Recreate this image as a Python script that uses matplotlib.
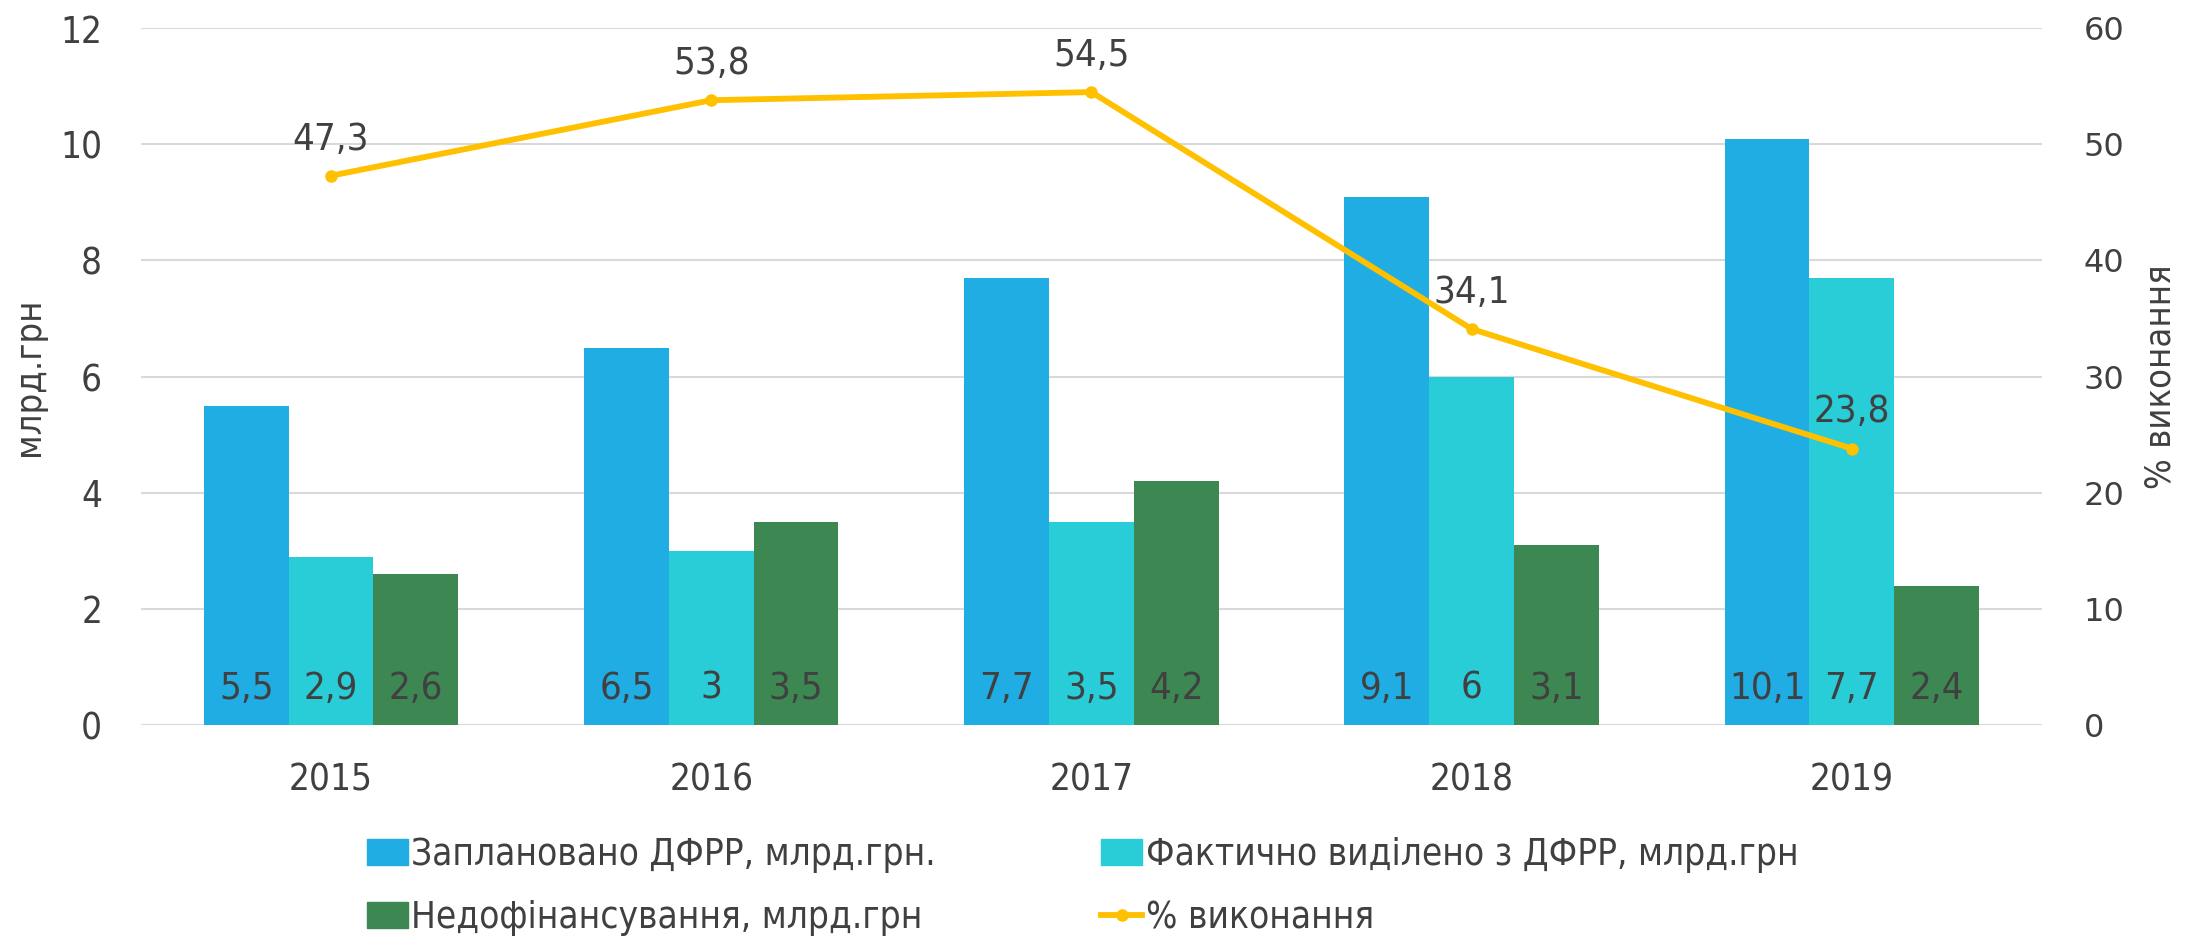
import numpy as np
import matplotlib

matplotlib.use("Agg")
import matplotlib.pyplot as plt
from matplotlib.lines import Line2D
from matplotlib.patches import Patch

plt.rcParams.update({
    "font.family": ["DejaVu Sans"],
    "font.stretch": "condensed",
    "font.size": 24,
    "text.color": "#404040",
})

YEARS = ["2015", "2016", "2017", "2018", "2019"]
PLANNED = [5.5, 6.5, 7.7, 9.1, 10.1]
ACTUAL = [2.9, 3.0, 3.5, 6.0, 7.7]
SHORTFALL = [2.6, 3.5, 4.2, 3.1, 2.4]
PCT_DONE = [47.3, 53.8, 54.5, 34.1, 23.8]

BAR_LABELS = ["Заплановано ДФРР, млрд.грн.",
              "Фактично виділено з ДФРР, млрд.грн",
              "Недофінансування, млрд.грн"]
LINE_LABEL = "% виконання"
COLORS = ["#1FADE3", "#28CDD8", "#3D8753"]
LINE_COLOR = "#FFC000"
TXT = "#404040"
GRID = "#D9D9D9"


def fmt(v):
    s = f"{v:.1f}".replace(".", ",")
    return s[:-2] if s.endswith(",0") else s


fig = plt.figure(figsize=(21.98, 9.41), dpi=100)
ax = fig.add_axes([0.0641, 0.2296, 0.8649, 0.7404])
ax2 = ax.twinx()

x = np.arange(len(YEARS))
w = 0.223
for i, (vals, col) in enumerate(zip([PLANNED, ACTUAL, SHORTFALL], COLORS)):
    pos = x + (i - 1) * w
    ax.bar(pos, vals, width=w, color=col, zorder=2)
    for p, v in zip(pos, vals):
        ax.annotate(fmt(v), (p, 0), xytext=(0, 26), textcoords="offset points",
                    ha="center", va="center", fontsize=27.5, color=TXT)

ax2.plot(x, PCT_DONE, color=LINE_COLOR, lw=4.2, marker="o", ms=8, zorder=3)
for xi, v in zip(x, PCT_DONE):
    ax2.annotate(fmt(v), (xi, v), xytext=(0, 26), textcoords="offset points",
                 ha="center", va="center", fontsize=27.5, color=TXT)

ax.set_xlim(-0.5, len(YEARS) - 0.5)
ax.set_ylim(0, 12)
ax.set_yticks(range(0, 13, 2))
ax2.set_ylim(0, 60)
ax2.set_yticks(range(0, 61, 10))
ax.set_xticks(x)
ax.set_xticklabels(YEARS)

ax.grid(axis="y", color=GRID, lw=1.5, zorder=0)
ax.set_axisbelow(True)
for a in (ax, ax2):
    for s in a.spines.values():
        s.set_visible(False)
ax.tick_params(axis="both", length=0, colors=TXT, labelsize=26.5)
ax.tick_params(axis="x", pad=26)
ax.tick_params(axis="y", pad=28)
ax2.tick_params(axis="y", length=0, colors=TXT, labelsize=23, pad=30)
for t in ax2.get_yticklabels():
    t.set_fontstretch("normal")

ax.set_ylabel("млрд.грн", fontsize=26, color=TXT, labelpad=10)
ax2.set_ylabel(LINE_LABEL, fontsize=26, color=TXT, labelpad=14)

handles = [Patch(color=COLORS[0]), Patch(color=COLORS[2]),
           Patch(color=COLORS[1]),
           Line2D([], [], color=LINE_COLOR, lw=4.2, marker="o", ms=8)]
labels = [BAR_LABELS[0], BAR_LABELS[2], BAR_LABELS[1], LINE_LABEL]
fig.legend(handles, labels, ncol=2, loc="upper left",
           bbox_to_anchor=(0.167, 0.112), frameon=False, fontsize=26.5,
           handlelength=1.1, handletextpad=0.1, columnspacing=4.5,
           labelspacing=0.72, borderaxespad=0, borderpad=0)

fig.savefig("out.png", dpi=100, facecolor="white")
